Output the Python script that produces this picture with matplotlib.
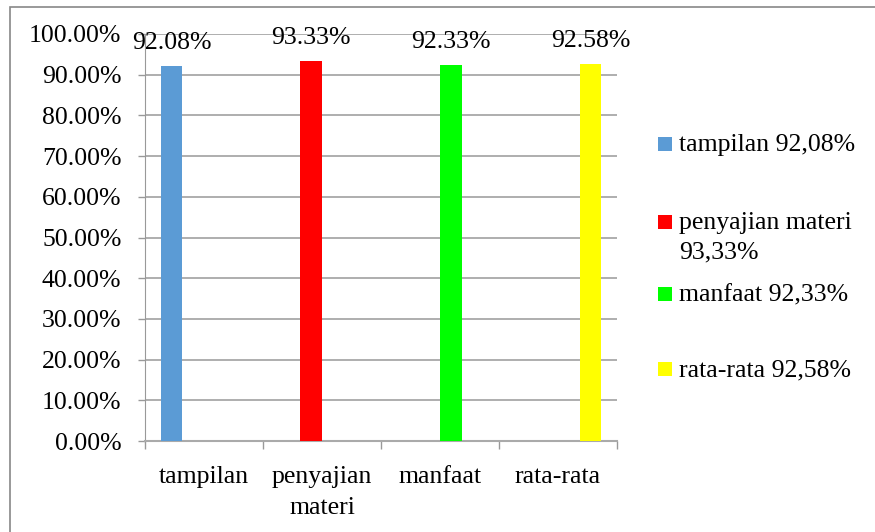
import matplotlib.pyplot as plt
import numpy as np
from matplotlib.patches import Rectangle
from matplotlib.ticker import FuncFormatter, FixedLocator
from matplotlib.legend_handler import HandlerPatch

plt.rcParams['font.family'] = ['Liberation Serif', 'DejaVu Serif']

# data
categories = ['tampilan', 'penyajian\nmateri', 'manfaat', 'rata-rata']
values = [0.9208, 0.9333, 0.9233, 0.9258]
series_names = ['tampilan 92,08%', 'penyajian materi\n93,33%', 'manfaat 92,33%', 'rata-rata 92,58%']
colors = ['#5B9BD5', '#FF0000', '#00FF00', '#FFFF00']

fs = 18.5

fig = plt.figure(figsize=(8.75, 5.32), dpi=100)
ax = fig.add_axes([145 / 875, 1 - 441 / 532, 472 / 875, 407 / 532])

n = len(values)
w = 0.184
x = np.arange(n)
handles = []
for i in range(n):
    # each series sits in its own slot of a grouped layout
    pos = x[i] + (i - (n - 1) / 2) * w
    b = ax.bar(pos, values[i], width=w, color=colors[i], zorder=3)
    handles.append(b[0])
    ax.annotate('{:.2f}%'.format(values[i] * 100), (pos, values[i]),
                xytext=(0, 9), textcoords='offset points',
                ha='center', va='bottom', fontsize=fs, zorder=4)

ax.set_xlim(-0.5, n - 0.5)
ax.set_ylim(0, 1.0)
ax.yaxis.set_major_locator(FixedLocator(np.linspace(0, 1, 11)))
ax.yaxis.set_major_formatter(FuncFormatter(lambda v, p: '{:.2f}%'.format(v * 100)))
ax.tick_params(axis='y', labelsize=fs, length=5, width=1, color='#999999', pad=12)
ax.yaxis.grid(True, color='#999999', lw=1.1, zorder=0)

# category ticks on boundaries, labels in the middle
ax.set_xticks(np.arange(-0.5, n, 1))
ax.set_xticklabels([])
ax.set_xticks(x, minor=True)
ax.set_xticklabels(categories, minor=True, fontsize=fs, linespacing=1.5)
ax.tick_params(axis='x', which='major', length=6, width=1, color='#999999')
ax.tick_params(axis='x', which='minor', length=0, pad=18)

for s in ['top', 'right']:
    ax.spines[s].set_visible(False)
ax.spines['left'].set_color('#999999')
ax.spines['bottom'].set_color('#aaaaaa')
ax.spines['bottom'].set_linewidth(1.5)


def square_at_bottom(legend, orig_handle, xdescent, ydescent, width, height, fontsize):
    # square key resting on the first text line's baseline
    return Rectangle((-xdescent, -ydescent), width, width)


# legend entries placed one by one
legend_top = [134, 212, 284, 359]
for h, name, yy in zip(handles, series_names, legend_top):
    leg = fig.legend([h], [name], loc='upper left',
                     bbox_to_anchor=(658 / 875, 1 - yy / 532),
                     frameon=False, fontsize=fs, handlelength=0.56, handleheight=0.65,
                     handletextpad=0.25, borderpad=0, borderaxespad=0,
                     handler_map={h: HandlerPatch(patch_func=square_at_bottom)})
    for t in leg.get_texts():
        t.set_linespacing(1.45)
    # keep the colour square beside the first line of a wrapped label
    for col in leg._legend_handle_box.get_children():
        for row in col.get_children():
            row.align = 'top'

# outer chart border
fig.add_artist(Rectangle((10 / 875, -0.1), 1.2, 1 - 7 / 532 + 0.1,
                         transform=fig.transFigure, fill=False,
                         edgecolor='#888888', lw=1.2))

fig.savefig('out.png', dpi=100)
